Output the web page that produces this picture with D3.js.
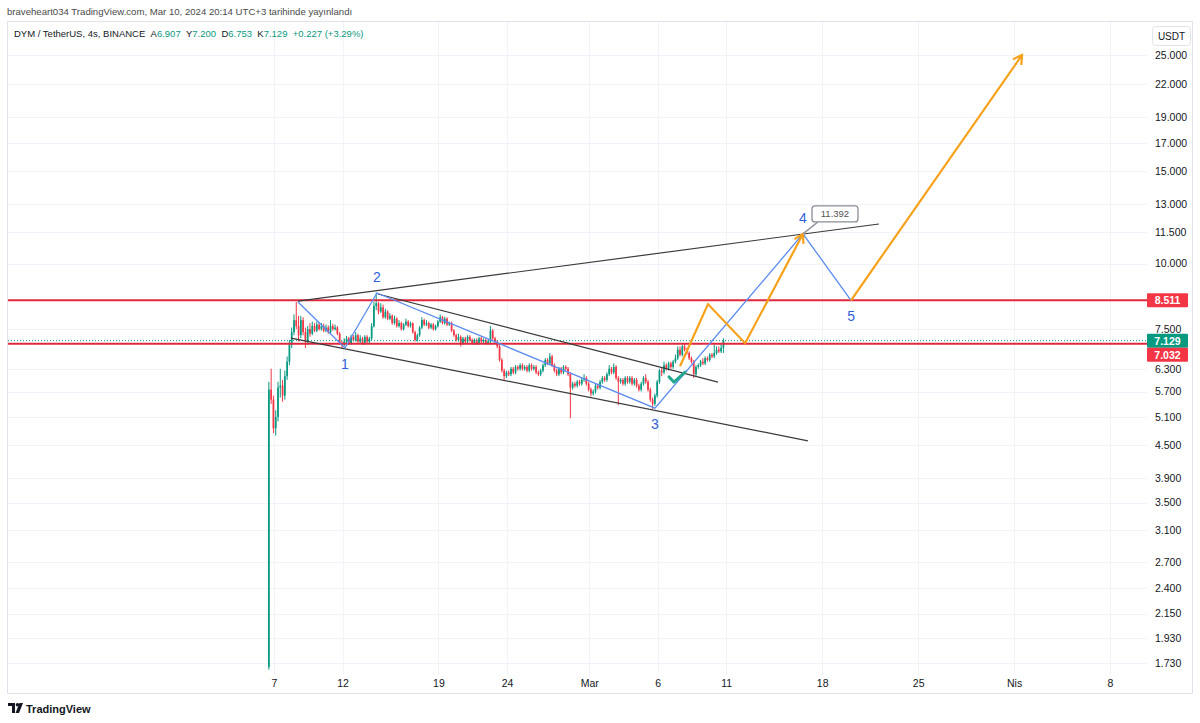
<!DOCTYPE html>
<html><head><meta charset="utf-8">
<script src="https://cdn.jsdelivr.net/npm/d3@7"></script>
<style>
body{margin:0;background:#fff;}
svg{display:block;font-family:"Liberation Sans",Arial,sans-serif;}
</style>
</head><body>
<svg id="c" width="1200" height="723"></svg>
<script>
// ---------------- DATA ----------------
const publishLine = "braveheart034 TradingView.com, Mar 10, 2024 20:14 UTC+3 tarihinde yayınlandı";
const symbolText = "DYM / TetherUS, 4s, BINANCE";
const legendKeys = ["A", "Y", "D", "K"];
const legendVals = ["6.907", "7.200", "6.753", "7.129"];
const legendChange = "+0.227 (+3.29%)";

const firstCandle = "2024-02-06T15:00";   // 4h candles, UTC+3 wall clock
const candleHours = 4;
const firstOpen = 1.70;
const closes = [
  5.75,5.50,4.85,5.10,5.80,5.85,5.60,6.10,6.50,7.00,
  7.40,7.80,7.60,7.30,7.80,7.40,7.10,7.50,7.35,7.60,
  7.45,7.65,7.50,7.60,7.45,7.55,7.40,7.60,7.50,7.55,
  7.35,7.05,7.00,7.10,7.20,7.05,7.25,7.15,7.30,7.10,
  7.20,7.05,7.25,7.10,7.20,7.60,8.30,8.40,8.10,8.25,
  7.90,8.10,7.85,7.95,7.70,7.85,7.60,7.70,7.50,7.65,
  7.75,7.60,7.70,7.40,7.15,7.30,7.55,7.80,7.65,7.70,
  7.55,7.65,7.50,7.60,7.75,7.90,7.70,7.85,7.65,7.70,
  7.45,7.30,7.15,7.25,7.05,7.20,7.10,7.25,7.15,7.05,
  7.15,7.05,7.20,7.10,7.15,7.05,7.10,7.45,7.20,7.10,
  6.95,6.55,6.25,6.10,6.20,6.15,6.30,6.20,6.35,6.30,
  6.40,6.30,6.35,6.25,6.40,6.30,6.35,6.20,6.15,6.25,
  6.40,6.55,6.45,6.65,6.40,6.25,6.15,6.30,6.20,6.35,
  6.30,6.15,5.80,5.90,5.85,5.95,5.90,6.00,6.05,5.90,
  5.75,5.65,5.70,5.85,5.80,5.95,6.05,6.00,6.15,6.30,
  6.20,6.35,6.05,5.95,6.00,5.90,6.05,5.95,6.05,5.90,
  6.00,5.85,5.75,5.90,6.05,5.95,5.75,5.50,5.40,5.60,
  5.95,6.25,6.20,6.40,6.30,6.45,6.35,6.50,6.60,6.85,
  6.70,6.95,6.85,6.75,6.60,6.50,6.15,6.35,6.40,6.50,
  6.45,6.60,6.55,6.70,6.65,6.75,6.85,6.80,6.907,7.129
];
const highs = [
  5.95,6.30,5.60,5.25,5.95,6.30,6.00,6.25,6.65,7.15,
  7.55,8.00,8.45,7.95,7.95,7.90,7.55,7.60,7.70,7.75,
  7.70,7.75,7.72,7.70,7.68,7.65,7.62,7.80,7.68,7.65,
  7.60,7.40,7.12,7.20,7.28,7.25,7.32,7.30,7.40,7.35,
  7.30,7.25,7.30,7.30,7.25,7.70,8.45,8.80,8.45,8.40,
  8.35,8.20,8.15,8.05,8.00,7.95,7.90,7.80,7.75,7.70,
  7.85,7.80,7.75,7.72,7.45,7.35,7.60,7.90,7.85,7.80,
  7.75,7.70,7.70,7.65,7.80,8.00,7.95,7.92,7.90,7.75,
  7.75,7.50,7.35,7.35,7.30,7.25,7.25,7.30,7.30,7.20,
  7.20,7.20,7.25,7.25,7.20,7.20,7.15,7.60,7.50,7.25,
  7.15,7.00,6.60,6.30,6.25,6.25,6.35,6.35,6.40,6.40,
  6.45,6.45,6.40,6.40,6.45,6.45,6.40,6.40,6.25,6.30,
  6.45,6.60,6.60,6.75,6.70,6.45,6.30,6.35,6.35,6.40,
  6.40,6.35,6.20,5.95,5.95,6.00,6.00,6.05,6.15,6.10,
  5.95,5.80,5.75,5.90,5.90,6.00,6.10,6.10,6.20,6.40,
  6.35,6.45,6.40,6.10,6.05,6.05,6.10,6.10,6.10,6.10,
  6.05,6.05,5.90,5.95,6.10,6.15,6.00,5.80,5.55,5.65,
  6.00,6.30,6.35,6.50,6.45,6.50,6.50,6.55,6.70,6.95,
  6.95,7.00,7.05,6.90,6.80,6.65,6.55,6.40,6.45,6.55,
  6.60,6.65,6.65,6.75,6.75,7.00,6.95,6.95,7.05,7.20
];
const lows = [
  1.68,5.40,4.75,4.70,5.00,5.55,5.45,5.50,6.00,6.40,
  6.90,7.30,7.50,7.10,7.20,7.30,6.90,7.00,7.25,7.30,
  7.40,7.40,7.45,7.45,7.40,7.40,7.35,7.35,7.45,7.45,
  7.30,7.00,6.88,6.95,7.05,7.00,7.00,7.10,7.10,7.05,
  7.05,7.00,7.00,7.05,7.05,7.15,7.55,8.15,8.00,8.05,
  7.85,7.85,7.80,7.80,7.65,7.65,7.55,7.55,7.45,7.45,
  7.60,7.55,7.55,7.35,7.10,7.10,7.25,7.50,7.60,7.60,
  7.50,7.50,7.45,7.45,7.55,7.70,7.65,7.65,7.60,7.60,
  7.40,7.25,7.10,7.10,6.95,7.00,7.05,7.05,7.10,7.00,
  7.00,7.00,7.00,7.05,7.05,7.00,7.00,7.05,7.15,7.05,
  6.90,6.50,6.20,5.98,6.05,6.10,6.10,6.15,6.15,6.25,
  6.25,6.25,6.25,6.20,6.20,6.25,6.25,6.15,6.10,6.10,
  6.20,6.35,6.40,6.40,6.35,6.20,6.10,6.10,6.15,6.15,
  6.25,6.10,5.07,5.75,5.80,5.80,5.85,5.85,5.95,5.85,
  5.70,5.58,5.60,5.65,5.75,5.75,5.90,5.95,5.95,6.10,
  6.15,6.15,6.00,5.37,5.90,5.85,5.85,5.90,5.90,5.85,
  5.85,5.80,5.70,5.70,5.85,5.90,5.70,5.45,5.28,5.35,
  5.55,5.90,6.10,6.15,6.25,6.25,6.30,6.30,6.45,6.55,
  6.65,6.65,6.80,6.70,6.55,6.45,6.05,6.10,6.30,6.35,
  6.40,6.40,6.50,6.50,6.60,6.60,6.70,6.75,6.75,6.753
];

const yTicks = [1.73,1.93,2.15,2.4,2.7,3.1,3.5,3.9,4.5,5.1,5.7,6.3,7.5,10,11.5,13,15,17,19,22,25];
const xTickDates = ["2024-02-07","2024-02-12","2024-02-19","2024-02-24","2024-03-01","2024-03-06","2024-03-11","2024-03-18","2024-03-25","2024-04-01","2024-04-08"];
const xTickLabels = ["7","12","19","24","Mar","6","11","18","25","Nis","8"];

const redLevels = [8.511, 7.032];
const lastPrice = 7.129;

// drawings: [time, price]
const blackLines = [
  [["2024-02-08T18:00", 8.48], ["2024-03-22T03:20", 11.90]],
  [["2024-02-14T14:00", 8.75], ["2024-03-10T09:30", 5.94]],
  [["2024-02-08T05:45", 7.21], ["2024-03-16T23:00", 4.59]]
];
const wavePoints = [
  ["2024-02-08T18:00", 8.45],
  ["2024-02-12T04:20", 6.90],
  ["2024-02-14T12:20", 8.79],
  ["2024-03-05T19:10", 5.30],
  ["2024-03-16T14:20", 11.392],
  ["2024-03-20T02:30", 8.511]
];
const waveLabels = ["", "1", "2", "3", "4", "5"];
const waveLabelSide = [0, 1, -1, 1, -1, 1];   // 1 = below, -1 = above
const orangePaths = [
  [["2024-03-07T15:00", 6.37], ["2024-03-09T16:00", 8.37], ["2024-03-12T09:00", 7.05], ["2024-03-16T14:20", 11.392]],
  [["2024-03-20T02:30", 8.511], ["2024-04-01T14:00", 25.0]]
];
const checkMark = [["2024-03-06T19:40", 6.08], ["2024-03-07T04:30", 5.94], ["2024-03-07T23:45", 6.21]];
const calloutText = "11.392";

// ---------------- CHART ----------------
const svg = d3.select("#c");
const pT = d3.utcParse("%Y-%m-%dT%H:%M");
const pD = d3.utcParse("%Y-%m-%d");
const plot = {l: 8, r: 1147, t: 22, b: 675};

const x = d3.scaleUtc().domain([pD("2024-02-07"), pD("2024-04-08")]).range([274, 1110]);
const y = d3.scaleLog().domain([1.73, 25]).range([663, 55]);

const GREEN = "#089981", RED = "#f23645";

// top publish line
svg.append("text").attr("x", 7).attr("y", 15).attr("font-size", 9.6).attr("fill", "#4a4a4a").text(publishLine);

// panel border
svg.append("rect").attr("x", 7.5).attr("y", 21.5).attr("width", 1185).attr("height", 672)
  .attr("fill", "none").attr("stroke", "#e0e3eb");

// gridlines
const grid = svg.append("g");
grid.selectAll("line.h").data(yTicks).join("line")
  .attr("x1", plot.l).attr("x2", plot.r).attr("y1", d => Math.round(y(d)) + 0.5).attr("y2", d => Math.round(y(d)) + 0.5)
  .attr("stroke", "#f0f3fa");
grid.selectAll("line.v").data(xTickDates).join("line")
  .attr("y1", plot.t).attr("y2", plot.b).attr("x1", d => Math.round(x(pD(d))) + 0.5).attr("x2", d => Math.round(x(pD(d))) + 0.5)
  .attr("stroke", "#f0f3fa");

// candles
const t0 = pT(firstCandle);
const candles = closes.map((c, i) => ({
  t: d3.utcHour.offset(t0, candleHours * i),
  o: i === 0 ? firstOpen : closes[i - 1],
  h: highs[i], l: lows[i], c: c
}));
const bw = (x(d3.utcHour.offset(t0, candleHours)) - x(t0)) * 0.75;
const cg = svg.append("g");
cg.selectAll("line").data(candles).join("line")
  .attr("x1", d => x(d.t)).attr("x2", d => x(d.t))
  .attr("y1", d => y(d.h)).attr("y2", d => y(d.l))
  .attr("stroke", d => d.c >= d.o ? GREEN : RED).attr("stroke-width", 1);
cg.selectAll("rect").data(candles).join("rect")
  .attr("x", d => x(d.t) - bw / 2).attr("width", bw)
  .attr("y", d => y(Math.max(d.o, d.c)))
  .attr("height", d => Math.max(1, Math.abs(y(d.o) - y(d.c))))
  .attr("fill", d => d.c >= d.o ? GREEN : RED);

// last price dotted line
svg.append("line").attr("x1", plot.l).attr("x2", plot.r).attr("y1", y(lastPrice)).attr("y2", y(lastPrice))
  .attr("stroke", GREEN).attr("stroke-width", 1).attr("stroke-dasharray", "1,2");

// red horizontal levels
svg.selectAll("line.lvl").data(redLevels).join("line")
  .attr("x1", plot.l).attr("x2", plot.r).attr("y1", d => y(d)).attr("y2", d => y(d))
  .attr("stroke", "#e0283c").attr("stroke-width", 2);

const line = d3.line().x(d => x(pT(d[0]))).y(d => y(d[1]));

// black trendlines
svg.selectAll("path.bl").data(blackLines).join("path")
  .attr("d", line).attr("fill", "none").attr("stroke", "#3a3a3a").attr("stroke-width", 1.2);

// blue wave
svg.append("path").attr("d", line(wavePoints)).attr("fill", "none").attr("stroke", "#5b8cf0").attr("stroke-width", 1.3);

// orange paths with arrowheads
orangePaths.forEach(p => {
  svg.append("path").attr("d", line(p)).attr("fill", "none").attr("stroke", "#f7a11a")
    .attr("stroke-width", 2.2).attr("stroke-linejoin", "miter");
  const a = p[p.length - 2], b = p[p.length - 1];
  const ax = x(pT(a[0])), ay = y(a[1]), bx = x(pT(b[0])), by = y(b[1]);
  const ang = Math.atan2(by - ay, bx - ax), L = 10;
  const pts = [ang + Math.PI * 0.83, ang - Math.PI * 0.83].map(q => [bx + L * Math.cos(q), by + L * Math.sin(q)]);
  svg.append("path").attr("d", `M${pts[0]}L${bx},${by}L${pts[1]}`).attr("fill", "none")
    .attr("stroke", "#f7a11a").attr("stroke-width", 2.2);
});

// check mark
svg.append("path").attr("d", line(checkMark)).attr("fill", "none").attr("stroke", "#22a98f")
  .attr("stroke-width", 3).attr("stroke-linecap", "round").attr("stroke-linejoin", "round");

// wave labels
svg.selectAll("text.wl").data(wavePoints.map((p, i) => ({p, t: waveLabels[i], s: waveLabelSide[i]})).filter(d => d.t))
  .join("text")
  .attr("x", d => x(pT(d.p[0]))).attr("y", d => y(d.p[1]) + d.s * 16 + 5)
  .attr("text-anchor", "middle").attr("font-size", 14).attr("fill", "#2f62d8").text(d => d.t);

// callout at point 4
{
  const p = wavePoints[4];
  const px = x(pT(p[0])), py = y(p[1]);
  svg.append("line").attr("x1", px).attr("y1", py).attr("x2", px + 15).attr("y2", py - 12)
    .attr("stroke", "#9598a1").attr("stroke-width", 1.5);
  svg.append("rect").attr("x", px + 9).attr("y", py - 28).attr("width", 46).attr("height", 16).attr("rx", 3)
    .attr("fill", "#fff").attr("stroke", "#8a8d96").attr("stroke-width", 1.3);
  svg.append("text").attr("x", px + 32).attr("y", py - 16.5).attr("text-anchor", "middle")
    .attr("font-size", 9.5).attr("fill", "#555").text(calloutText);
}

// legend line
const NB = "\u00a0";
const lg = svg.append("text").attr("x", 14).attr("y", 37).attr("font-size", 9.5).attr("fill", "#131722");
lg.append("tspan").text(symbolText + NB + NB);
legendKeys.forEach((k, i) => {
  lg.append("tspan").text(k);
  lg.append("tspan").attr("fill", GREEN).text(legendVals[i] + NB + NB);
});
lg.append("tspan").attr("fill", GREEN).text(legendChange);

// y axis
const yAxis = d3.axisRight(y).tickValues(yTicks).tickFormat(d3.format(".3f")).tickSize(0).tickPadding(5);
const ya = svg.append("g").attr("transform", `translate(1150,0)`).call(yAxis);
ya.select(".domain").remove();
ya.selectAll("text").attr("font-size", 10.5).attr("fill", "#131722").attr("font-family", "Liberation Sans, Arial, sans-serif");

// x axis
const xAxis = d3.axisBottom(x).tickValues(xTickDates.map(pD)).tickFormat((d, i) => xTickLabels[i]).tickSize(0).tickPadding(5);
const xa = svg.append("g").attr("transform", `translate(0,${plot.b})`).call(xAxis);
xa.select(".domain").remove();
xa.selectAll("text").attr("font-size", 10.5).attr("fill", "#131722").attr("font-family", "Liberation Sans, Arial, sans-serif");

// price tags on axis
function tag(val, cy, color) {
  svg.append("rect").attr("x", 1147).attr("y", cy - 7).attr("width", 41).attr("height", 14).attr("rx", 1).attr("fill", color);
  svg.append("text").attr("x", 1167.5).attr("y", cy + 4).attr("text-anchor", "middle").attr("font-size", 10.5)
    .attr("font-weight", "bold").attr("fill", "#fff").text(d3.format(".3f")(val));
}
tag(redLevels[0], y(redLevels[0]), RED);
tag(lastPrice, y(lastPrice), GREEN);
tag(redLevels[1], y(lastPrice) + 14, RED);

// USDT box
svg.append("rect").attr("x", 1152.5).attr("y", 26.5).attr("width", 38).attr("height", 19).attr("rx", 3)
  .attr("fill", "#fff").attr("stroke", "#e0e3eb");
svg.append("text").attr("x", 1171.5).attr("y", 40).attr("text-anchor", "middle").attr("font-size", 10).attr("fill", "#131722").text("USDT");

// footer logo
const lgG = svg.append("g").attr("transform", "translate(8,703)");
lgG.append("path").attr("d", "M0,0H7V10H4V3H0Z").attr("fill", "#131722");
lgG.append("circle").attr("cx", 9.5).attr("cy", 1.8).attr("r", 1.8).attr("fill", "#131722");
lgG.append("path").attr("d", "M11.5,0H15L11,10H7.5Z").attr("fill", "#131722");
svg.append("text").attr("x", 26).attr("y", 712.5).attr("font-size", 11).attr("font-weight", "bold").attr("fill", "#131722").text("TradingView");
</script>
</body></html>
